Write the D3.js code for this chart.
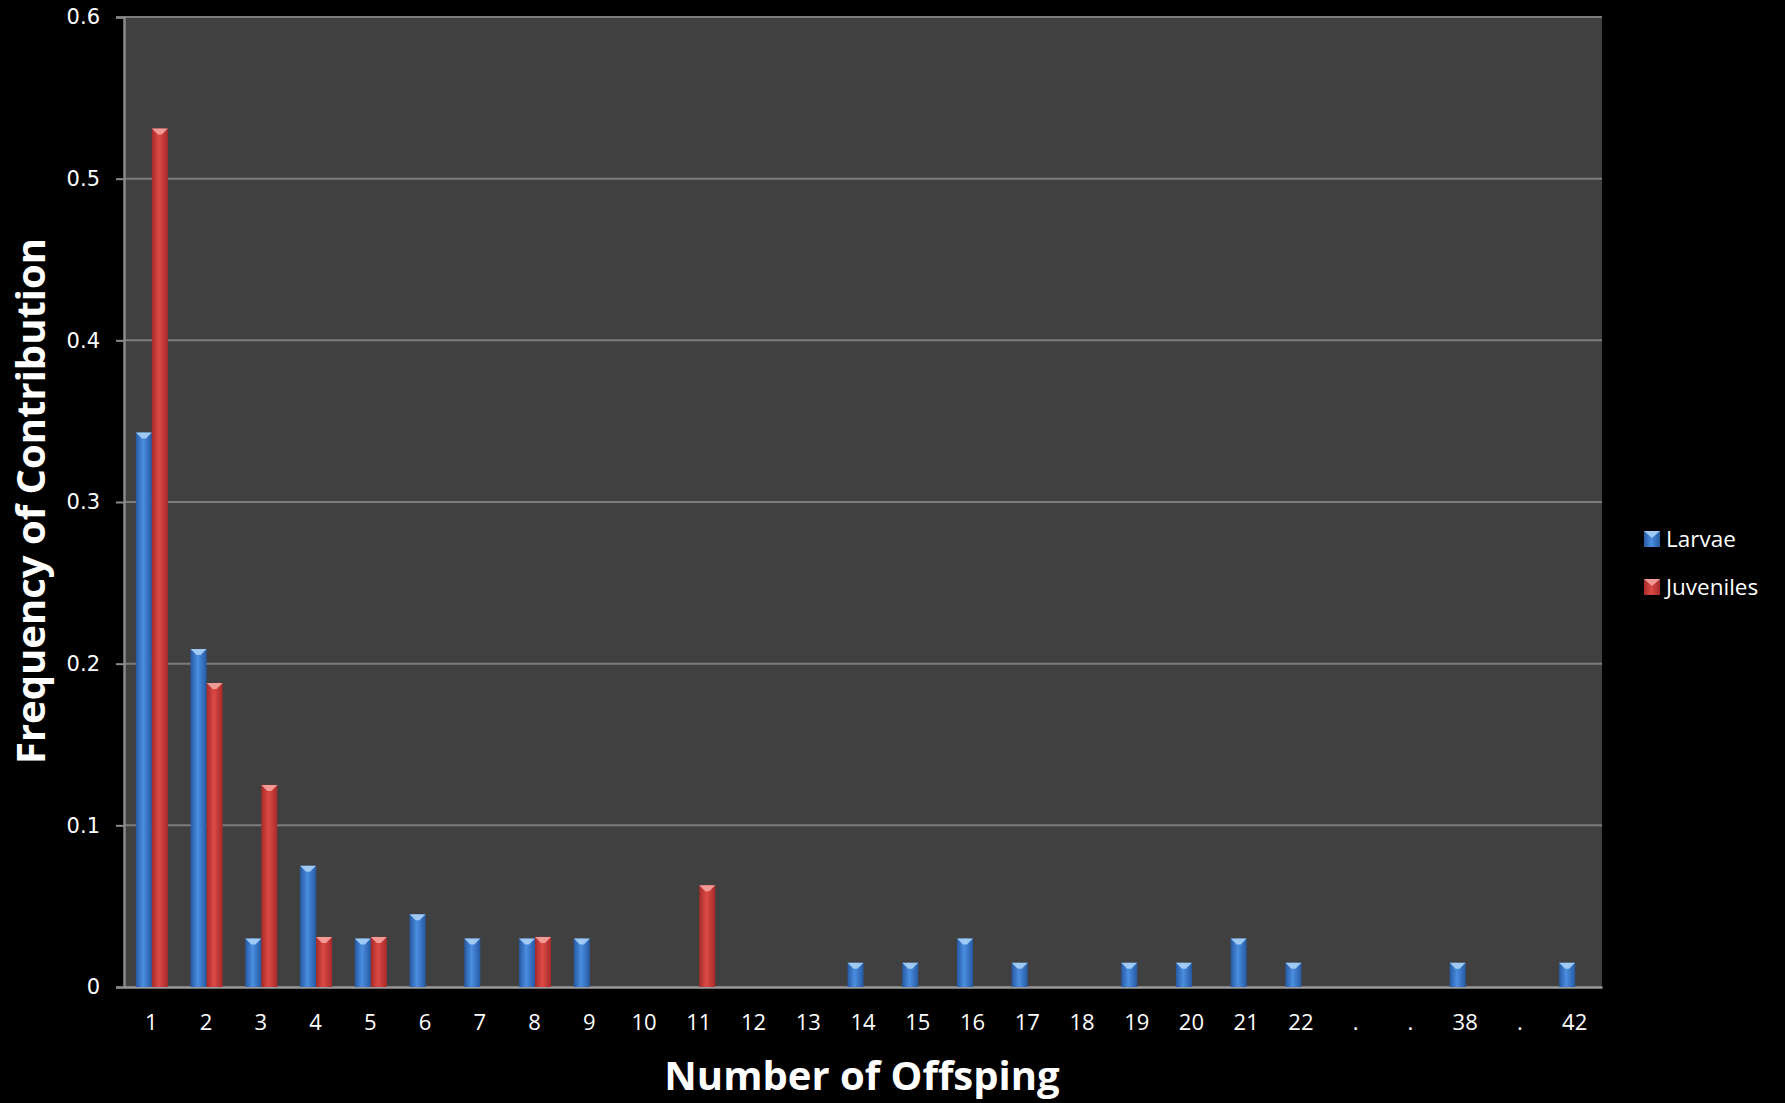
<!DOCTYPE html>
<html>
<head>
<meta charset="utf-8">
<script src="https://cdn.jsdelivr.net/npm/d3@7"></script>
<style>
  html, body { margin: 0; padding: 0; background: #000; }
  svg { display: block; }
</style>
</head>
<body>
<svg id="chart" width="1785" height="1103"></svg>
<script>
// Number of offspring classes (gaps in the range shown as ".")
const categories = ["1","2","3","4","5","6","7","8","9","10","11","12","13","14","15","16","17","18","19","20","21","22",".",".","38",".","42"];
// Frequency of contribution per class
const larvae    = [0.343,0.209,0.030,0.075,0.030,0.045,0.030,0.030,0.030,0,0,0,0,0.015,0.015,0.030,0.015,0,0.015,0.015,0.030,0.015,0,0,0.015,0,0.015];
const juveniles = [0.531,0.188,0.125,0.031,0.031,0,0,0.031,0,0,0.063,0,0,0,0,0,0,0,0,0,0,0,0,0,0,0,0];
const seriesNames = ["Larvae", "Juveniles"];
const yTicks = [0, 0.1, 0.2, 0.3, 0.4, 0.5, 0.6];

const svg = d3.select("#chart");
const plot = { left: 124, right: 1602, top: 17, bottom: 987 };

const palette = {
  Larvae:    { edge: "#2659a3", mid: "#4a8ee0", cap: "#a9d2f7" },
  Juveniles: { edge: "#a52a2a", mid: "#dc4a45", cap: "#f6a3a0" }
};

// gradients giving the cylinder-like shading of the bars
const defs = svg.append("defs");
seriesNames.forEach(s => {
  const g = defs.append("linearGradient").attr("id", "grad-" + s)
    .attr("x1", "0%").attr("x2", "100%").attr("y1", "0%").attr("y2", "0%");
  g.append("stop").attr("offset", "0%").attr("stop-color", palette[s].edge);
  g.append("stop").attr("offset", "45%").attr("stop-color", palette[s].mid);
  g.append("stop").attr("offset", "100%").attr("stop-color", palette[s].edge);
});

const x0 = d3.scaleBand().domain(d3.range(categories.length))
  .range([plot.left, plot.right]).paddingInner(0).paddingOuter(0);
const y = d3.scaleLinear().domain([0, 0.6]).range([plot.bottom, plot.top]);
const barW = 16;
const x1 = d3.scaleBand().domain(seriesNames)
  .range([x0.bandwidth() / 2 - barW + 0.5, x0.bandwidth() / 2 + barW + 0.5]);

// plot background
svg.append("rect")
  .attr("x", plot.left).attr("y", plot.top)
  .attr("width", plot.right - plot.left).attr("height", plot.bottom - plot.top)
  .attr("fill", "#404040");

// horizontal gridlines
svg.append("g").selectAll("line").data(yTicks.filter(t => t > 0)).join("line")
  .attr("x1", plot.left).attr("x2", plot.right)
  .attr("y1", d => y(d)).attr("y2", d => y(d))
  .attr("stroke", "#7c7c7c").attr("stroke-width", 2);

// y axis
const yAxis = svg.append("g").attr("transform", `translate(${plot.left},0)`)
  .call(d3.axisLeft(y).tickValues(yTicks).tickFormat(d => d === 0 ? "0" : d3.format(".1f")(d))
    .tickSize(8).tickPadding(16));
yAxis.select(".domain").attr("stroke", "#8a8a8a").attr("stroke-width", 2.5);
yAxis.selectAll(".tick line").attr("stroke", "#8a8a8a").attr("stroke-width", 2);
yAxis.selectAll(".tick text")
  .attr("fill", "#ffffff").attr("font-family", "'DejaVu Sans', sans-serif").attr("font-size", 21);

// x axis
const xAxis = svg.append("g").attr("transform", `translate(0,${plot.bottom})`)
  .call(d3.axisBottom(x0).tickFormat(i => categories[i]).tickSize(0).tickPadding(27));
xAxis.select(".domain").attr("stroke", "#9a9a9a").attr("stroke-width", 2.5);
xAxis.selectAll(".tick text")
  .attr("fill", "#ffffff").attr("font-family", "'Open Sans', sans-serif").attr("font-size", 22);

// bars
const rows = categories.map((c, i) => ({ i, Larvae: larvae[i], Juveniles: juveniles[i] }));
const groups = svg.append("g").selectAll("g").data(rows).join("g")
  .attr("transform", d => `translate(${x0(d.i)},0)`);

const bars = groups.selectAll("g.bar")
  .data(d => seriesNames.map(s => ({ s, v: d[s] })).filter(b => b.v > 0))
  .join("g").attr("class", "bar");

bars.append("rect")
  .attr("x", b => x1(b.s)).attr("width", x1.bandwidth())
  .attr("y", b => y(b.v)).attr("height", b => y(0) - y(b.v))
  .attr("fill", b => `url(#grad-${b.s})`);

// light bevelled cap on each bar top
bars.append("path")
  .attr("d", b => {
    const xl = x1(b.s), xr = xl + x1.bandwidth(), yt = y(b.v), xm = xl + x1.bandwidth() / 2;
    return `M${xl},${yt} L${xr},${yt} L${xm + 2},${yt + 6} L${xm - 2},${yt + 6} Z`;
  })
  .attr("fill", b => palette[b.s].cap).attr("opacity", 0.9);

// axis titles
svg.append("text")
  .attr("x", 862).attr("y", 1090)
  .attr("text-anchor", "middle").attr("fill", "#fff")
  .attr("font-family", "'Open Sans', sans-serif").attr("font-weight", "bold").attr("font-size", 40)
  .text("Number of Offsping");

svg.append("text")
  .attr("transform", "translate(45,501) rotate(-90)")
  .attr("text-anchor", "middle").attr("fill", "#fff")
  .attr("font-family", "'Open Sans', sans-serif").attr("font-weight", "bold").attr("font-size", 40)
  .text("Frequency of Contribution");

// legend
const legend = svg.append("g").attr("transform", "translate(1644,531)");
const li = legend.selectAll("g").data(seriesNames).join("g")
  .attr("transform", (d, i) => `translate(0,${i * 48})`);
li.append("rect").attr("width", 16).attr("height", 16).attr("fill", d => `url(#grad-${d})`);
li.append("path").attr("d", "M0,0 L16,0 L8,7 Z").attr("fill", d => palette[d].cap).attr("opacity", 0.9);
li.append("text").attr("x", 22).attr("y", 8).attr("dy", "0.35em")
  .attr("fill", "#fff").attr("font-family", "'Open Sans', sans-serif").attr("font-size", 22.5)
  .text(d => d);
</script>
</body>
</html>
